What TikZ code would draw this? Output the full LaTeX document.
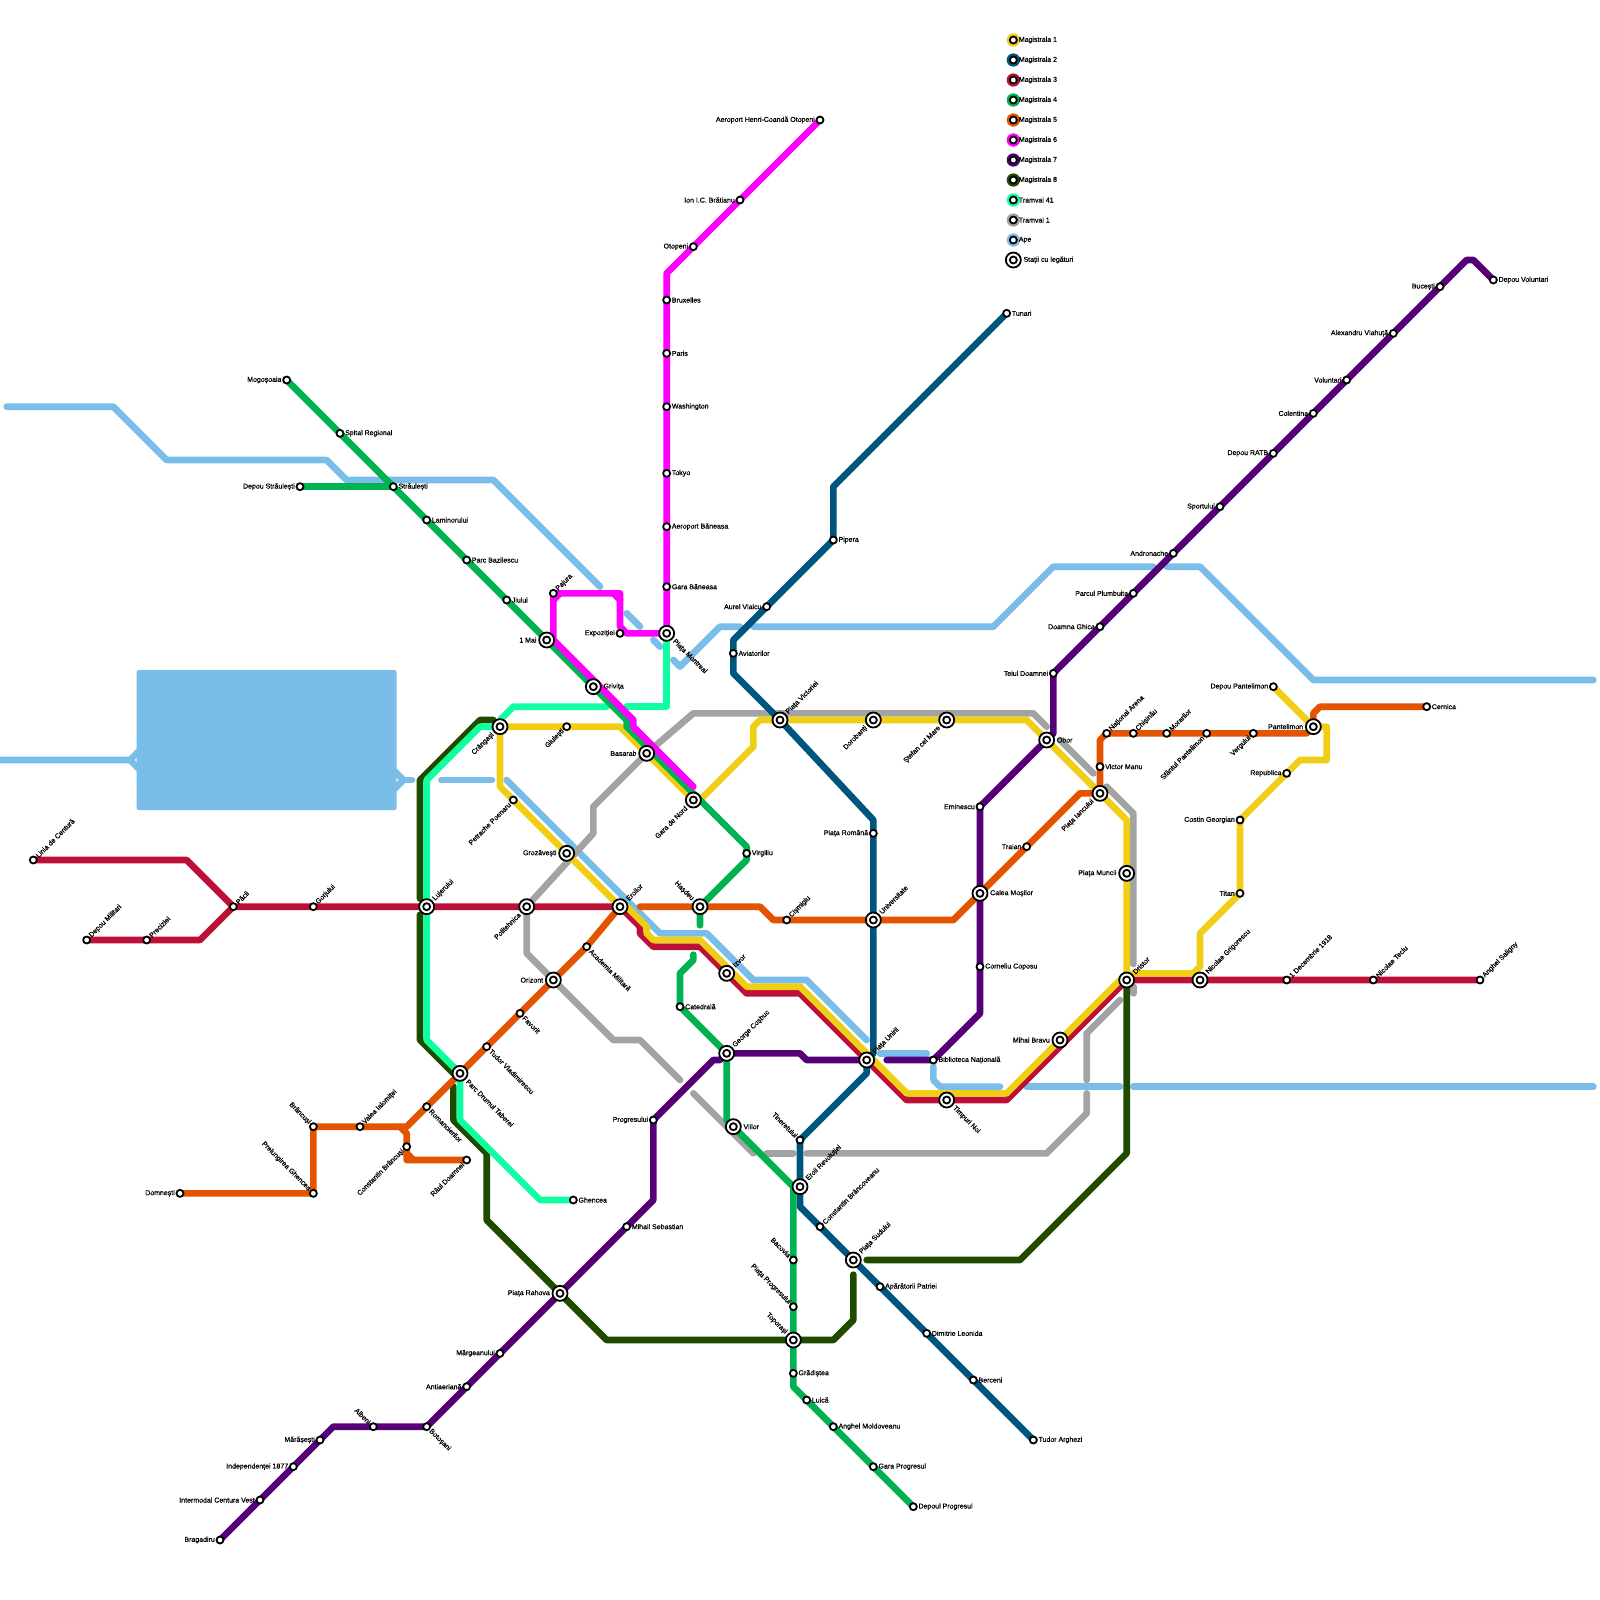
\documentclass[tikz,border=0pt]{standalone}
\usepackage{fontspec}
\usetikzlibrary{calc}
\setmainfont{Liberation Sans}
\newfontfamily\lab[FakeBold=0.7]{Liberation Sans}
\definecolor{cM1}{HTML}{F0CE15}
\definecolor{cM2}{HTML}{00557F}
\definecolor{cM3}{HTML}{BD1038}
\definecolor{cM4}{HTML}{00B251}
\definecolor{cM5}{HTML}{E35300}
\definecolor{cM6}{HTML}{FF00FF}
\definecolor{cM7}{HTML}{560078}
\definecolor{cM8}{HTML}{1F4B00}
\definecolor{cT41}{HTML}{10FFA0}
\definecolor{cT1}{HTML}{A3A3A3}
\definecolor{cApe}{HTML}{7ABDE9}
\tikzset{
 route/.style={line width=6.67pt,line cap=round,line join=round},
 smallst/.style={circle,draw=black,fill=white,line width=1.8pt,minimum size=7pt,inner sep=0pt},
 hubst/.style={circle,draw=black,fill=white,line width=1.8pt,minimum size=15pt,inner sep=0pt},
 lbl/.style={inner sep=0pt,font=\lab\fontsize{7}{7.2}\selectfont,text=black},
 d0/.style={anchor=west},
 d180/.style={anchor=east},
 d45/.style={anchor=west,rotate=45},
 d225/.style={anchor=east,rotate=45},
 d135/.style={anchor=east,rotate=-45},
 d315/.style={anchor=west,rotate=-45},
}
\newcommand\stationlist{%
\X{aeroport}{61.5}{9}{s}{180}{Aeroport Henri-Coandă Otopeni}%
\X{bratianu}{55.5}{15}{s}{180}{Ion I.C. Brătianu}%
\X{otopeni}{52}{18.5}{s}{180}{Otopeni}%
\X{bruxelles}{50}{22.5}{s}{0}{Bruxelles}%
\X{paris}{50}{26.5}{s}{0}{Paris}%
\X{washington}{50}{30.5}{s}{0}{Washington}%
\X{tokyo}{50}{35.5}{s}{0}{Tokyo}%
\X{aerobaneasa}{50}{39.5}{s}{0}{Aeroport Băneasa}%
\X{garabaneasa}{50}{44}{s}{0}{Gara Băneasa}%
\X{montreal}{50}{47.5}{h}{315}{Piața Montreal}%
\X{expozitiei}{46.5}{47.5}{s}{180}{Expoziției}%
\X{pajura}{41.5}{44.5}{s}{45}{Pajura}%
\X{mogosoaia}{21.5}{28.5}{s}{180}{Mogoșoaia}%
\X{spital}{25.5}{32.5}{s}{0}{Spital Regional}%
\X{depoustr}{22.5}{36.5}{s}{180}{Depou Străulești}%
\X{straulesti}{29.5}{36.5}{s}{0}{Străulești}%
\X{laminorului}{32}{39}{s}{0}{Laminorului}%
\X{bazilescu}{35}{42}{s}{0}{Parc Bazilescu}%
\X{jiului}{38}{45}{s}{0}{Jiului}%
\X{unumai}{41}{48}{h}{180}{1 Mai}%
\X{grivita}{44.5}{51.5}{h}{0}{Grivița}%
\X{crangasi}{37.5}{54.5}{h}{225}{Crângași}%
\X{giulesti}{42.5}{54.5}{s}{225}{Giulești}%
\X{basarab}{48.5}{56.5}{h}{180}{Basarab}%
\X{garanord}{52}{60}{h}{225}{Gara de Nord}%
\X{petrache}{38.5}{60}{s}{225}{Petrache Poenaru}%
\X{grozavesti}{42.5}{64}{h}{180}{Grozăvești}%
\X{virgiliu}{56}{64}{s}{0}{Virgiliu}%
\X{lujerului}{32}{68}{h}{45}{Lujerului}%
\X{politehnica}{39.5}{68}{h}{225}{Politehnica}%
\X{eroilor}{46.5}{68}{h}{45}{Eroilor}%
\X{hasdeu}{52.5}{68}{h}{135}{Hașdeu}%
\X{cismigiu}{59}{69}{s}{45}{Cișmigiu}%
\X{universitate}{65.5}{69}{h}{45}{Universitate}%
\X{academia}{44}{71}{s}{315}{Academia Militară}%
\X{izvor}{54.5}{73}{h}{45}{Izvor}%
\X{orizont}{41.5}{73.5}{h}{180}{Orizont}%
\X{catedrala}{51}{75.5}{s}{0}{Catedrală}%
\X{favorit}{39}{76}{s}{315}{Favorit}%
\X{tudorvl}{36.5}{78.5}{s}{315}{Tudor Vladimirescu}%
\X{cosbuc}{54.5}{79}{h}{45}{George Coșbuc}%
\X{unirii}{65}{79.5}{h}{45}{Piața Unirii}%
\X{biblioteca}{70}{79.5}{s}{0}{Biblioteca Națională}%
\X{drumul}{34.5}{80.5}{h}{315}{Parc Drumul Taberei}%
\X{timpuri}{71}{82.5}{h}{315}{Timpuri Noi}%
\X{romancierilor}{32}{83}{s}{315}{Romancierilor}%
\X{progresului}{49}{84}{s}{180}{Progresului}%
\X{viilor}{55}{84.5}{h}{0}{Viilor}%
\X{brancusi}{23.5}{84.5}{s}{135}{Brâncuși}%
\X{ialomitei}{27}{84.5}{s}{45}{Valea Ialomiței}%
\X{tineretului}{60}{85.5}{s}{135}{Tineretului}%
\X{cbrancusi}{30.5}{86}{s}{225}{Constantin Brâncuși}%
\X{doamnei}{35}{87}{s}{225}{Râul Doamnei}%
\X{eroii}{60}{89}{h}{45}{Eroii Revoluției}%
\X{domnesti}{13.5}{89.5}{s}{180}{Domnești}%
\X{ghencea}{23.5}{89.5}{s}{135}{Prelungirea Ghencea}%
\X{ghenceat}{43}{90}{s}{0}{Ghencea}%
\X{brancoveanu}{61.5}{92}{s}{45}{Constantin Brâncoveanu}%
\X{sebastian}{47}{92}{s}{0}{Mihail Sebastian}%
\X{bacovia}{59.5}{94.5}{s}{135}{Bacovia}%
\X{sudului}{64}{94.5}{h}{45}{Piața Sudului}%
\X{aparatorii}{66}{96.5}{s}{0}{Apărătorii Patriei}%
\X{rahova}{42}{97}{h}{180}{Piața Rahova}%
\X{progr}{59.5}{98}{s}{135}{Piața Progresului}%
\X{leonida}{69.5}{100}{s}{0}{Dimitrie Leonida}%
\X{toporasi}{59.5}{100.5}{h}{135}{Toporași}%
\X{margeanului}{37.5}{101.5}{s}{180}{Mărgeanului}%
\X{gradistea}{59.5}{103}{s}{0}{Grădiștea}%
\X{berceni}{73}{103.5}{s}{0}{Berceni}%
\X{antiaeriana}{35}{104}{s}{180}{Antiaeriană}%
\X{luica}{60.5}{105}{s}{0}{Luică}%
\X{moldoveanu}{62.5}{107}{s}{0}{Anghel Moldoveanu}%
\X{albeni}{28}{107}{s}{135}{Albeni}%
\X{botosani}{32}{107}{s}{315}{Botoșani}%
\X{marasesti}{24}{108}{s}{180}{Mărășești}%
\X{arghezi}{77.5}{108}{s}{0}{Tudor Arghezi}%
\X{independentei}{22}{110}{s}{180}{Independenței 1877}%
\X{garaprog}{65.5}{110}{s}{0}{Gara Progresul}%
\X{intermodal}{19.5}{112.5}{s}{180}{Intermodal Centura Vest}%
\X{depouprog}{68.5}{113}{s}{0}{Depoul Progresul}%
\X{bragadiru}{16.5}{115.5}{s}{180}{Bragadiru}%
\X{centura}{2.5}{64.5}{s}{45}{Linia de Centură}%
\X{pacii}{17.5}{68}{s}{45}{Păcii}%
\X{gorjului}{23.5}{68}{s}{45}{Gorjului}%
\X{militari}{6.5}{70.5}{s}{45}{Depou Militari}%
\X{preciziei}{11}{70.5}{s}{45}{Preciziei}%
\X{tunari}{75.5}{23.5}{s}{0}{Tunari}%
\X{pipera}{62.5}{40.5}{s}{0}{Pipera}%
\X{vlaicu}{57.5}{45.5}{s}{180}{Aurel Vlaicu}%
\X{aviatorilor}{55}{49}{s}{0}{Aviatorilor}%
\X{victoriei}{58.5}{54}{h}{45}{Piața Victoriei}%
\X{dorobanti}{65.5}{54}{h}{225}{Dorobanți}%
\X{stefan}{71}{54}{h}{225}{Ștefan cel Mare}%
\X{romana}{65.5}{62.5}{s}{180}{Piața Română}%
\X{obor}{78.5}{55.5}{h}{0}{Obor}%
\X{iancului}{82.5}{59.5}{h}{225}{Piața Iancului}%
\X{muncii}{84.5}{65.5}{h}{180}{Piața Muncii}%
\X{dristor}{84.5}{73.5}{h}{45}{Dristor}%
\X{bravu}{79.5}{78}{h}{180}{Mihai Bravu}%
\X{grigorescu}{90}{73.5}{h}{45}{Nicolae Grigorescu}%
\X{decembrie}{96.5}{73.5}{s}{45}{1 Decembrie 1918}%
\X{teclu}{103}{73.5}{s}{45}{Nicolae Teclu}%
\X{saligny}{111}{73.5}{s}{45}{Anghel Saligny}%
\X{traian}{77}{63.5}{s}{180}{Traian}%
\X{mosilor}{73.5}{67}{h}{0}{Calea Moșilor}%
\X{eminescu}{73.5}{60.5}{s}{180}{Eminescu}%
\X{coposu}{73.5}{72.5}{s}{0}{Corneliu Coposu}%
\X{victormanu}{82.5}{57.5}{s}{0}{Victor Manu}%
\X{arena}{83}{55}{s}{45}{Național Arena}%
\X{chisinau}{85}{55}{s}{45}{Chișinău}%
\X{morarilor}{87.5}{55}{s}{45}{Morarilor}%
\X{sfpant}{90.5}{55}{s}{225}{Sfântul Pantelimon}%
\X{vergului}{94}{55}{s}{225}{Vergului}%
\X{pantelimon}{98.5}{54.5}{h}{180}{Pantelimon}%
\X{depoupant}{95.5}{51.5}{s}{180}{Depou Pantelimon}%
\X{cernica}{107}{53}{s}{0}{Cernica}%
\X{republica}{96.5}{58}{s}{180}{Republica}%
\X{costin}{93}{61.5}{s}{180}{Costin Georgian}%
\X{titan}{93}{67}{s}{180}{Titan}%
\X{teiul}{79}{50.5}{s}{180}{Teiul Doamnei}%
\X{ghica}{82.5}{47}{s}{180}{Doamna Ghica}%
\X{plumbuita}{85}{44.5}{s}{180}{Parcul Plumbuita}%
\X{andronache}{88}{41.5}{s}{180}{Andronache}%
\X{sportului}{91.5}{38}{s}{180}{Sportului}%
\X{ratb}{95.5}{34}{s}{180}{Depou RATB}%
\X{colentina}{98.5}{31}{s}{180}{Colentina}%
\X{voluntari}{101}{28.5}{s}{180}{Voluntari}%
\X{vlahuta}{104.5}{25}{s}{180}{Alexandru Vlahuță}%
\X{bucesti}{108}{21.5}{s}{180}{Bucești}%
\X{depouvol}{112}{21}{s}{0}{Depou Voluntari}%
}
\begin{document}
\begin{tikzpicture}[x=13.3333pt,y=-13.3333pt]
\useasboundingbox (0,0) rectangle (120,120);
\def\X#1#2#3#4#5#6{\coordinate (#1) at (#2,#3);}
\stationlist
% Ape
\fill[cApe,rounded corners=1.5pt] (10.25,50.25) rectangle (29.75,60.75);
\draw[route,cApe] (0.5,30.5) -- (8.5,30.5) -- (12.5,34.5) -- (24.5,34.5) -- (26,36) -- (37,36) -- (45,44);
\draw[route,cApe] (47,46) -- (48,47);
\draw[route,cApe] (49,48) -- (49.5,48.5);
\draw[route,cApe] (50.5,49.5) -- (51,50) -- (54,47) -- (55.5,47);
\draw[route,cApe] (56.5,47) -- (74.5,47) -- (79,42.5) -- (86.5,42.5);
\draw[route,cApe] (87.5,42.5) -- (90,42.5) -- (98.5,51) -- (119.5,51);
\draw[route,cApe] (0,57) -- (9.75,57) -- (10.5,56.25);
\draw[route,cApe] (9.75,57) -- (10.5,57.75);
\draw[route,cApe] (29.5,57.75) -- (30.25,58.5) -- (29.5,59.25);
\draw[route,cApe] (30.25,58.5) -- (30.9,58.5);
\draw[route,cApe] (33.1,58.5) -- (36.9,58.5);
\draw[route,cApe] (38,58.5) -- (49.5,70) -- (53,70) -- (56.5,73.5) -- (60.5,73.5) -- (65,78);
\draw[route,cApe] (66,79) -- (69.5,79);
\draw[route,cApe] (70,80) -- (70,81) -- (70.5,81.5) -- (75,81.5);
\draw[route,cApe] (77,81.5) -- (84,81.5);
\draw[route,cApe] (85,81.5) -- (119.5,81.5);
% Tramvai 1
\draw[route,cT1] (politehnica) -- (44.5,62.5) -- (44.5,60.5) -- (basarab) -- (52,53.5) -- (77.5,53.5) -- (78.5,54.5);
\draw[route,cT1] (79.5,55.5) -- (82,58);
\draw[route,cT1] (83,59) -- (85,61) -- (85,72.3);
\draw[route,cT1] (85,74) -- (85,74.5);
\draw[route,cT1] (84,75) -- (81.5,77.5) -- (81.5,81);
\draw[route,cT1] (81.5,82) -- (81.5,83.5) -- (78.5,86.5) -- (60.5,86.5);
\draw[route,cT1] (59.5,86.5) -- (57.5,86.5);
\draw[route,cT1] (56.5,86.5) -- (52,82);
\draw[route,cT1] (51,81) -- (48,78) -- (46,78) -- (39.5,71.5) -- (politehnica);
% Magistrala 8
\draw[route,cM8] (crangasi) ++(-0.5,-0.5) -- (36,54) -- (31.5,58.5) -- (31.5,67.4);
\draw[route,cM8] (31.5,68.6) -- (31.5,78) -- (34,80.5);
\draw[route,cM8] (34,81.5) -- (34,84) -- (36.5,86.5) -- (36.5,91.5) -- (rahova) -- (45.5,100.5) -- (toporasi) -- (62.5,100.5) -- (64,99) -- (64,95.6);
\draw[route,cM8] (65,94.5) -- (76.5,94.5) -- (84.5,86.5) -- (dristor);
% Tramvai 41
\draw[route,cT41] (montreal) -- (50,53) -- (49.5,53) -- (47,53);
\draw[route,cT41] (45.5,53) -- (38.5,53) -- (37.5,54);
\draw[route,cT41] (crangasi) -- (36,54.5) -- (32,58.5) -- (lujerului) -- (32,78) -- (drumul) -- (34.5,84) -- (40.5,90) -- (ghenceat);
% Magistrala 5
\draw[route,cM5] (domnesti) -- (ghencea) -- (brancusi) -- (ialomitei) -- (30.5,84.5) -- (romancierilor) -- (drumul) -- (tudorvl) -- (favorit) -- (orizont) -- (academia) -- (eroilor);
\draw[route,cM5] (30,84.5) -- (30.5,85) -- (cbrancusi) -- (30.5,87) -- (doamnei);
\draw[route,cM5] (30.5,86.5) -- (31,87);
\draw[route,cM5] (48,68) -- (hasdeu) -- (57,68) -- (58,69) -- (cismigiu) -- (universitate) -- (71.5,69) -- (mosilor) -- (traian) -- (81,59.5) -- (iancului) -- (victormanu) -- (82.5,55.5) -- (arena) -- (chisinau) -- (morarilor) -- (sfpant) -- (vergului) -- (98,55) -- (pantelimon) -- (98.5,53.5) -- (99,53) -- (cernica);
% Magistrala 3
\draw[route,cM3] (centura) -- (14,64.5) -- (pacii) -- (gorjului) -- (lujerului) -- (politehnica) -- (eroilor) -- (48,69.5) -- (48,70) -- (49,71) -- (52.5,71) -- (izvor) -- (56,74.5) -- (60,74.5) -- (unirii) -- (68,82.5) -- (timpuri) -- (75.5,82.5) -- (dristor) -- (grigorescu) -- (decembrie) -- (teclu) -- (saligny);
\draw[route,cM3] (militari) -- (preciziei) -- (15,70.5) -- (pacii);
% Magistrala 1
\draw[route,cM1] (crangasi) -- (giulesti) -- (46.5,54.5) -- (garanord) -- (52.5,60) -- (56.5,56) -- (56.5,54.5) -- (57,54) -- (victoriei) -- (dorobanti) -- (stefan) -- (77,54) -- (obor) -- (iancului) -- (84.5,61.5) -- (muncii) -- (dristor) -- (84,73.5) -- (bravu) -- (75.5,82) -- (68,82) -- (60,74) -- (56,74) -- (52.5,70.5) -- (49,70.5) -- (48.5,70) -- (48.5,69.5) -- (47,68) -- (eroilor) -- (grozavesti) -- (petrache) -- (37.5,59) -- (crangasi);
\draw[route,cM1] (dristor) -- (85,73) -- (89.5,73) -- (90,72.5) -- (90,70) -- (titan) -- (costin) -- (republica) -- (97.5,57) -- (99.5,57) -- (99.5,54.5) -- (pantelimon) -- (depoupant);
% Magistrala 2
\draw[route,cM2] (tunari) -- (62.5,36.5) -- (pipera) -- (vlaicu) -- (55,48) -- (aviatorilor) -- (55,50.5) -- (victoriei) -- (65.5,61.5) -- (romana) -- (universitate) -- (65.5,79) -- (unirii) -- (65,80.5) -- (tineretului) -- (eroii) -- (60,90.5) -- (brancoveanu) -- (sudului) -- (aparatorii) -- (leonida) -- (berceni) -- (arghezi);
% Magistrala 7
\draw[route,cM7] (bragadiru) -- (intermodal) -- (independentei) -- (marasesti) -- (25,107) -- (albeni) -- (botosani) -- (antiaeriana) -- (margeanului) -- (rahova) -- (sebastian) -- (49,90) -- (progresului) -- (53.5,79.5) -- (54,79.5) -- (cosbuc) -- (60,79) -- (60.5,79.5) -- (unirii);
\draw[route,cM7] (66.5,79.5) -- (biblioteca) -- (73.5,76) -- (coposu) -- (mosilor) -- (eminescu) -- (obor) -- (79,55) -- (teiul) -- (ghica) -- (plumbuita) -- (andronache) -- (sportului) -- (ratb) -- (colentina) -- (voluntari) -- (vlahuta) -- (bucesti) -- (110,19.5) -- (110.5,19.5) -- (depouvol);
% Magistrala 4
\draw[route,cM4] (depoustr) -- (straulesti);
\draw[route,cM4] (mogosoaia) -- (spital) -- (straulesti) -- (laminorului) -- (bazilescu) -- (jiului) -- (unumai) -- (grivita) -- (47,54) -- (47,54.5) -- (52.5,60) -- (56,63.5) -- (virgiliu) -- (56,64.5) -- (hasdeu) -- (52.5,69.4);
\draw[route,cM4] (52,71.6) -- (52,72) -- (51,73) -- (catedrala) -- (cosbuc) -- (54.5,84) -- (viilor) -- (59.5,89) -- (bacovia) -- (progr) -- (toporasi) -- (gradistea) -- (59.5,104) -- (luica) -- (moldoveanu) -- (garaprog) -- (depouprog);
% Magistrala 6
\draw[route,cM6] (aeroport) -- (bratianu) -- (otopeni) -- (50,20.5) -- (bruxelles) -- (paris) -- (washington) -- (tokyo) -- (aerobaneasa) -- (garabaneasa) -- (montreal) -- (47,47.5) -- (46.5,47) -- (46.5,44.5) -- (pajura) -- (41.5,48) -- (47.5,54) -- (47.5,54.5) -- (52,59);
\draw[route,cM6] (46,44.5) -- (46.5,45);
\draw[route,cM6] (42,44.5) -- (41.5,45);
% Stations
\def\X#1#2#3#4#5#6{%
 \if#4s
  \node[smallst] (n-#1) at (#1) {};
  \node[lbl,d#5] (l-#1) at ($(#1)+(#5:5pt)$) {#6};
 \else
  \node[hubst] (n-#1) at (#1) {};
  \node[smallst] (c-#1) at (#1) {};
  \node[lbl,d#5] (l-#1) at ($(#1)+(#5:10pt)$) {#6};
 \fi}
\stationlist
% Legend
\foreach \c/\y/\t/\k in {cM1/3/Magistrala 1/a,cM2/4.5/Magistrala 2/b,cM3/6/Magistrala 3/c,cM4/7.5/Magistrala 4/d,cM5/9/Magistrala 5/e,cM6/10.5/Magistrala 6/f,cM7/12/Magistrala 7/g,cM8/13.5/Magistrala 8/h,cT41/15/Tramvai 41/i,cT1/16.5/Tramvai 1/j,cApe/18/Ape/k}{
 \fill[\c] (76,\y) circle (6.67pt);
 \node[smallst] (ls-\k) at (76,\y) {};
 \node[lbl,anchor=west] (lt-\k) at (76.4,\y) {\t};
}
\node[hubst] (lh) at (76,19.5) {};
\node[smallst] (lhc) at (76,19.5) {};
\node[lbl,anchor=west] (lht) at (76.75,19.5) {Stații cu legături};
\end{tikzpicture}
\end{document}
